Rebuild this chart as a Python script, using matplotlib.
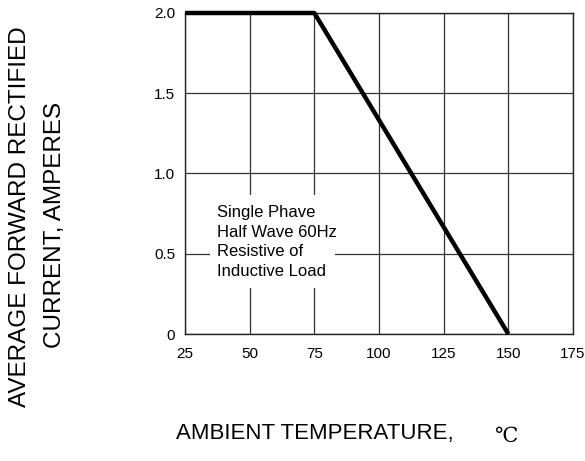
import matplotlib
matplotlib.use("Agg")
import matplotlib.pyplot as plt
from matplotlib.patches import Rectangle

# derating curve
temp = [25, 75, 150]
current = [2.0, 2.0, 0.0]

xticks = [25, 50, 75, 100, 125, 150, 175]
yticks = [0, 0.5, 1.0, 1.5, 2.0]
ytick_labels = ["0", "0.5", "1.0", "1.5", "2.0"]

note = "Single Phave\nHalf Wave 60Hz\nResistive of\nInductive Load"

plt.rcParams['font.family'] = ['Liberation Sans', 'DejaVu Sans']

fig = plt.figure(figsize=(5.85, 4.61), dpi=100)
ax = fig.add_axes([185/585, 1 - 334/461, 388/585, 321/461])

ax.set_xlim(25, 175)
ax.set_ylim(0, 2.0)
ax.set_xticks(xticks)
ax.set_yticks(yticks)
ax.set_yticklabels(ytick_labels)
ax.tick_params(length=0, labelsize=11)
ax.tick_params(axis='x', pad=9)
ax.tick_params(axis='y', pad=7)
ax.grid(True, color="#333333", linewidth=0.9)
ax.set_axisbelow(True)
for s in ax.spines.values():
    s.set_linewidth(1.0)
    s.set_color("#222222")

ax.plot(temp, current, color="black", linewidth=3.2, solid_capstyle="butt", clip_on=False, zorder=5)

# white patch behind the note, hides the grid
ax.add_patch(Rectangle((0.064, 0.143), 0.322, 0.29, transform=ax.transAxes,
                       facecolor="white", edgecolor="none", zorder=3))
ax.text(0.082, 0.287, note, transform=ax.transAxes, fontsize=12, linespacing=1.38,
        va="center", ha="left", zorder=4)

fig.text(20/585, 1 - 217/461, "AVERAGE FORWARD RECTIFIED", rotation=90,
         ha="center", va="center", fontsize=17.5)
fig.text(55/585, 1 - 225/461, "CURRENT, AMPERES", rotation=90,
         ha="center", va="center", fontsize=17.5)
fig.text(315/585, 1 - 439/461, "AMBIENT TEMPERATURE,", ha="center", va="baseline",
         fontsize=16)
fig.text(506/585, 1 - 442/461, "\u2103", ha="center", va="baseline",
         fontsize=15, family=["DejaVu Serif", "Noto Sans CJK SC"])

fig.savefig("out.png", dpi=100)
